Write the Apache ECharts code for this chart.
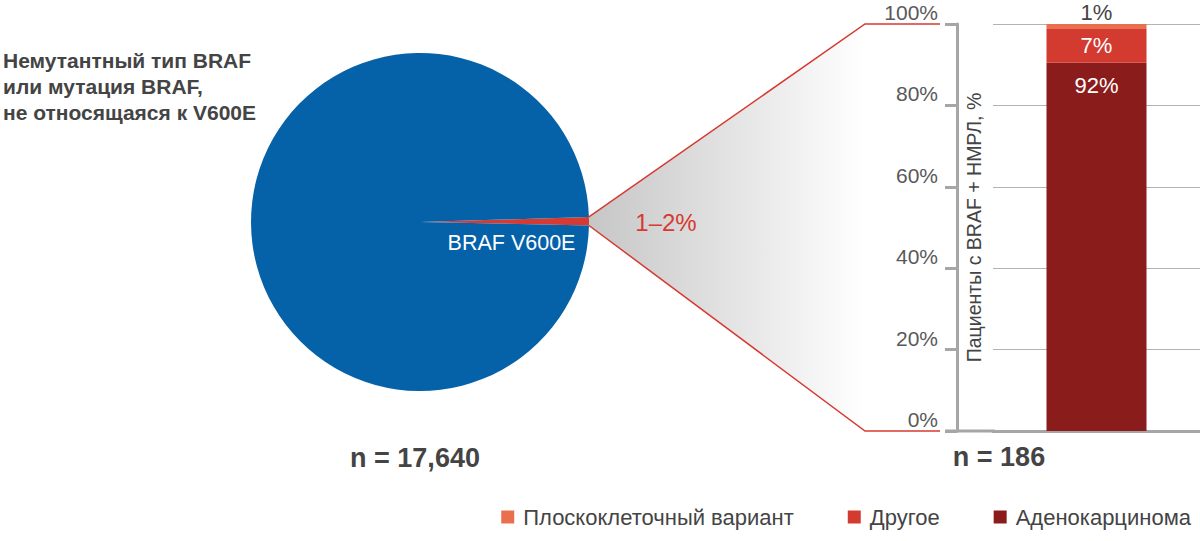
<!DOCTYPE html>
<html>
<head>
<meta charset="utf-8">
<script src="https://cdn.jsdelivr.net/npm/echarts@6/dist/echarts.min.js"></script>
<style>
  html, body { margin: 0; background: #fff; }
  #chart { width: 1200px; height: 541px; }
</style>
</head>
<body>
<div id="chart"></div>
<script>
// данные круговой диаграммы (все пациенты с НМРЛ)
const pieNames = ['BRAF V600E', 'Немутантный тип BRAF\nили мутация BRAF,\nне относящаяся к V600E']
const pieValues = [0.8, 99.2]
const pieColors = ['#d63a32', '#0561a8']
const pieN = 'n = 17,640'
const shareLabel = '1–2%'

// данные столбца (пациенты с BRAF V600E)
const barCategory = ['BRAF V600E']
const histNames = ['Плоскоклеточный вариант', 'Другое', 'Аденокарцинома']
const histValues = [1.2, 8.3, 90.5]
const histLabels = ['1%', '7%', '92%']
const histColors = ['#e8704f', '#d33a30', '#8b1c1c']
const barN = 'n = 186'
const yTicks = [0, 20, 40, 60, 80, 100]
const yName = 'Пациенты с BRAF + НМРЛ, %'

const FONT = '"Liberation Sans", Arial, sans-serif'
const TXT = '#444'
const AXIS = '#a6a6a6'

// геометрия круга
const PIE_C = [420, 222]
const PIE_R = 169
const START = 1.7

const labelCfg = [
  { position: 'top', color: TXT, distance: 1 },
  { position: 'inside', color: '#fff' },
  { position: 'insideTop', color: '#fff', distance: 12 }
]

const barSeries = histNames.map((name, i) => ({
  name,
  type: 'bar',
  stack: 'hist',
  barWidth: 100,
  data: [histValues[i]],
  itemStyle: { color: histColors[i] },
  label: Object.assign({
    show: true,
    formatter: histLabels[i],
    fontSize: 22,
    fontFamily: FONT
  }, labelCfg[i])
})).reverse() // снизу вверх: аденокарцинома, другое, плоскоклеточный

const option = {
  animation: false,
  textStyle: { fontFamily: FONT },
  grid: { left: 993, right: 0, top: 24, bottom: 110 },
  legend: {
    data: histNames,
    right: 4,
    top: 501,
    icon: 'rect',
    itemWidth: 13,
    itemHeight: 13,
    itemGap: 54,
    textStyle: { fontSize: 22, color: TXT, fontFamily: FONT, padding: [0, 0, 0, 4] }
  },
  xAxis: {
    type: 'category',
    data: barCategory,
    axisLine: { lineStyle: { color: AXIS, width: 3 } },
    axisTick: { show: false },
    axisLabel: { show: false }
  },
  yAxis: {
    type: 'value',
    min: yTicks[0],
    max: yTicks[yTicks.length - 1],
    interval: yTicks[1] - yTicks[0],
    offset: 36,
    name: yName,
    nameLocation: 'middle',
    nameRotate: 90,
    nameGap: -27,
    nameTextStyle: { fontSize: 19.5, color: TXT, fontFamily: FONT },
    axisLine: { show: true, lineStyle: { color: AXIS, width: 3 } },
    axisTick: { show: true, length: 12, lineStyle: { color: AXIS, width: 3 } },
    axisLabel: {
      formatter: '{value}%',
      fontSize: 21,
      color: '#595959',
      margin: 19,
      verticalAlign: 'bottom',
      padding: [0, 0, 1, 0]
    },
    splitLine: { lineStyle: { color: '#b3b3b3', width: 1 } }
  },
  series: [
    {
      type: 'pie',
      center: PIE_C,
      radius: PIE_R,
      startAngle: START,
      clockwise: true,
      silent: true,
      data: pieNames.map((name, i) => ({
        name,
        value: pieValues[i],
        itemStyle: { color: pieColors[i] },
        label: i === 0
          ? { show: true, position: 'inside', formatter: 'BRAF V600E', color: '#fff', fontSize: 21.5, offset: [4, 21] }
          : { show: false }
      })),
      labelLine: { show: false }
    },
    ...barSeries
  ]
}

const chart = echarts.init(document.getElementById('chart'), null, { renderer: 'svg' })
chart.setOption(option)

// выноска от сектора к столбцу
const y100 = chart.convertToPixel({ yAxisIndex: 0 }, yTicks[yTicks.length - 1])
const y0 = chart.convertToPixel({ yAxisIndex: 0 }, yTicks[0])
const a1 = START * Math.PI / 180
const a2 = (START - pieValues[0] * 3.6) * Math.PI / 180
const p1 = [PIE_C[0] + PIE_R * Math.cos(a1), PIE_C[1] - PIE_R * Math.sin(a1)]
const p2 = [PIE_C[0] + PIE_R * Math.cos(a2), PIE_C[1] - PIE_R * Math.sin(a2)]
const elbowX = 865
const endX = 940

chart.setOption({
  graphic: [
    {
      type: 'polygon', z: -1,
      shape: { points: [p1, [elbowX, y100], [elbowX, y0], p2] },
      style: {
        fill: new echarts.graphic.LinearGradient(0, 0, 1, 0, [
          { offset: 0, color: '#c6c6c6' },
          { offset: 1, color: '#ffffff' }
        ])
      }
    },
    {
      type: 'polyline',
      shape: { points: [p1, [elbowX, y100], [endX, y100]] },
      style: { stroke: '#d63a32', lineWidth: 1.5, fill: null }
    },
    {
      type: 'polyline',
      shape: { points: [p2, [elbowX, y0], [endX, y0]] },
      style: { stroke: '#d63a32', lineWidth: 1.5, fill: null }
    },
    {
      type: 'line',
      shape: { x1: 945, y1: y0, x2: 995, y2: y0 },
      style: { stroke: AXIS, lineWidth: 3 }
    },
    {
      type: 'text', x: 666, y: PIE_C[1],
      style: { text: shareLabel, fill: '#d63a32', fontSize: 24, fontFamily: FONT, align: 'center', verticalAlign: 'middle' }
    },
    {
      type: 'text', x: 3, y: 47,
      style: { text: pieNames[1], fill: TXT, fontSize: 21, fontWeight: 'bold', lineHeight: 26, fontFamily: FONT }
    },
    {
      type: 'text', x: PIE_C[0] - 5, y: 458,
      style: { text: pieN, fill: TXT, fontSize: 27, fontWeight: 'bold', fontFamily: FONT, align: 'center', verticalAlign: 'middle' }
    },
    {
      type: 'text', x: 999, y: 457,
      style: { text: barN, fill: TXT, fontSize: 27, fontWeight: 'bold', fontFamily: FONT, align: 'center', verticalAlign: 'middle' }
    }
  ]
})
</script>
</body>
</html>
